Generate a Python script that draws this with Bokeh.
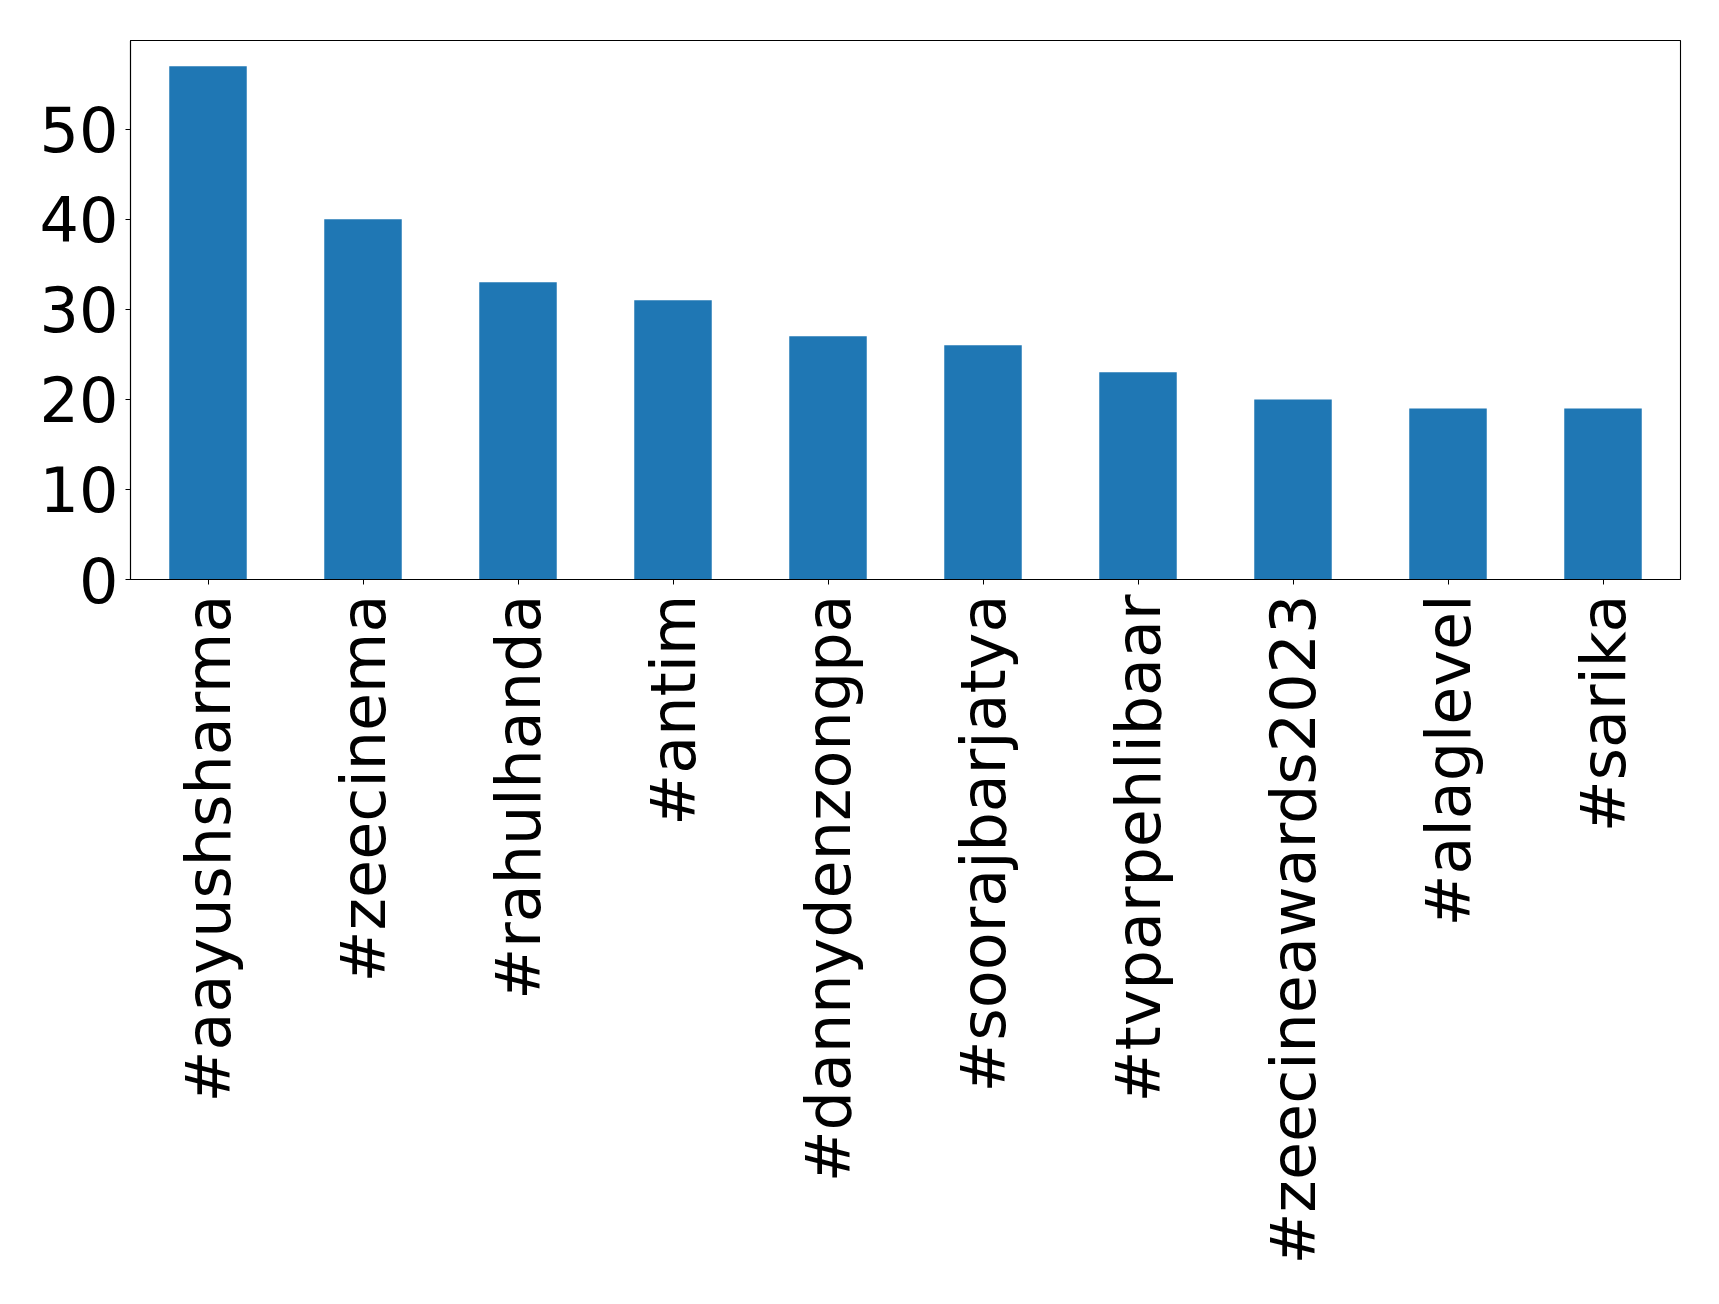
from bokeh.plotting import figure
from bokeh.models import Range1d, FactorRange, FixedTicker
from bokeh.embed import file_html
from bokeh.resources import INLINE
import math

tags = ["#aayushsharma", "#zeecinema", "#rahulhanda", "#antim", "#dannydenzongpa",
        "#soorajbarjatya", "#tvparpehlibaar", "#zeecineawards2023", "#alaglevel", "#sarika"]
counts = [57, 40, 33, 31, 27, 26, 23, 20, 19, 19]
y_ticks = [0, 10, 20, 30, 40, 50]

p = figure(width=1703, height=1288, output_backend="svg", toolbar_location=None,
           x_range=FactorRange(factors=tags, range_padding=0),
           y_range=Range1d(0, max(counts) * 1.05),
           min_border_left=130, min_border_right=23, min_border_top=40, min_border_bottom=709)

p.vbar(x=tags, top=counts, width=0.5, color="#1f77b4", line_color=None)

p.xgrid.visible = False
p.ygrid.visible = False
p.outline_line_color = "black"
p.outline_line_width = 1.1
p.background_fill_color = "white"
p.border_fill_color = "white"

for ax in (p.xaxis[0], p.yaxis[0]):
    ax.axis_line_color = "black"
    ax.axis_line_width = 1.1
    ax.major_tick_line_color = "black"
    ax.major_tick_in = 0
    ax.major_tick_out = 5
    ax.minor_tick_line_color = None
    ax.major_label_text_font = "DejaVu Sans"
    ax.major_label_text_font_size = "62px"
    ax.major_label_text_color = "black"

p.yaxis.ticker = FixedTicker(ticks=y_ticks)
p.yaxis.major_label_standoff = 7
p.xaxis.major_label_orientation = math.pi / 2
p.xaxis.major_label_standoff = 10
p.xaxis.group_text_font_size = "0px"

open("out.html", "w").write(file_html(p, INLINE))
